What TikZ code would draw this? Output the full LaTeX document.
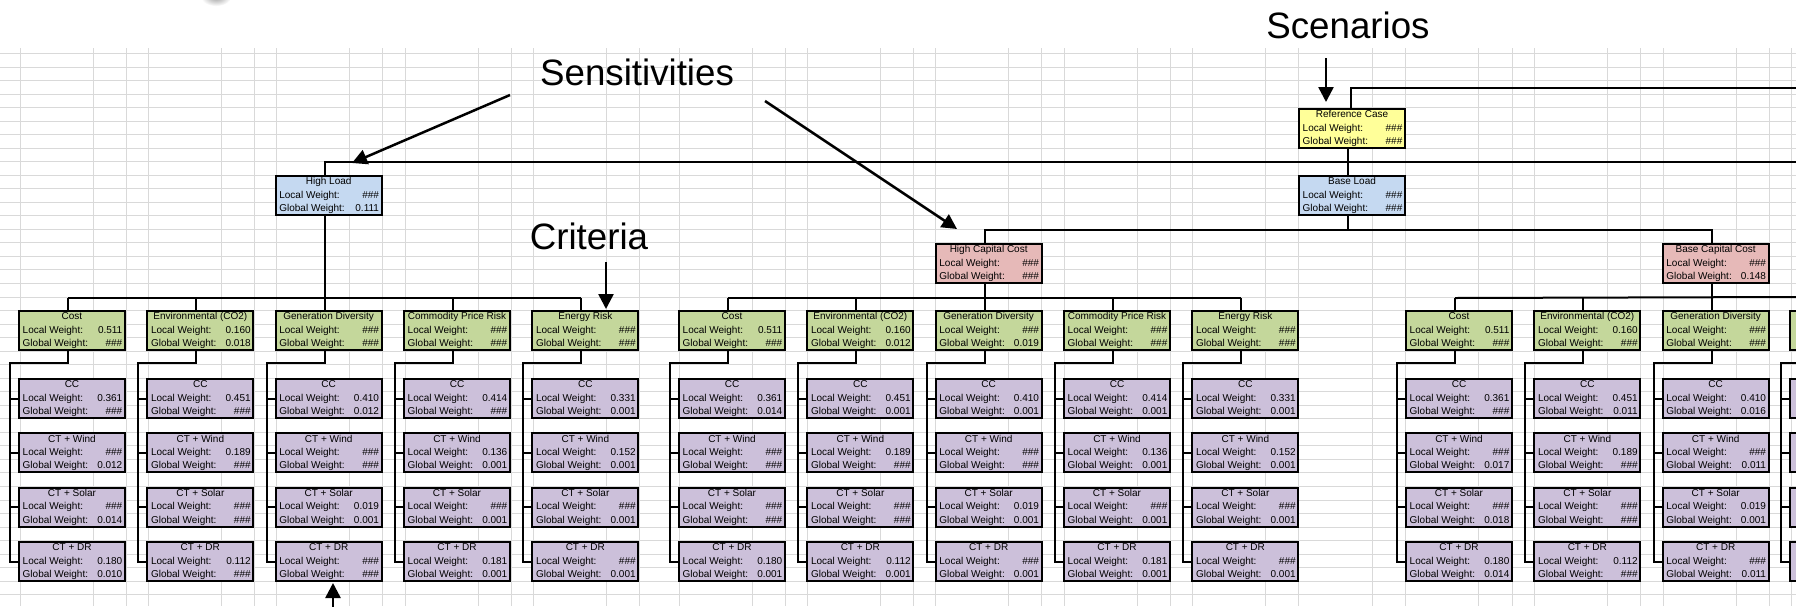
\documentclass[tikz,border=0pt]{standalone}
\usepackage{fontspec}
\setmainfont{Liberation Sans}
\usetikzlibrary{arrows.meta,calc}
\definecolor{gridc}{HTML}{D9D9D9}
\definecolor{scenc}{HTML}{FFFF99}
\definecolor{sensc}{HTML}{C5D9F1}
\definecolor{capc}{HTML}{E6B9B8}
\definecolor{critc}{HTML}{C4D79B}
\definecolor{altc}{HTML}{CCC0DA}
\tikzset{
 wbox/.style={draw=black, line width=1.8pt, anchor=north west, minimum width=106pt, minimum height=39pt, inner sep=0pt, outer sep=0pt},
 boxtxt/.style={inner sep=0pt, font=\fontsize{10}{10}\selectfont, text height=7.3pt, text depth=2pt},
 conn/.style={draw=black, line width=2pt},
 annot/.style={draw=black, line width=2.5pt, -{Triangle[length=15pt,width=15pt]}},
 bigtxt/.style={inner sep=0pt, font=\fontsize{36.7}{40}\selectfont, text height=26.5pt, text depth=0pt},
 gridline/.style={draw=gridc, line width=1pt},
}
\newcommand\hh{\#\#\#}
\newcommand\wtbox[7]{%
 \node[wbox, fill=#4] (#1) at ({#2+1},{#3+1}) {};
 \node[boxtxt] (#1t) at ([yshift=-6.2pt]#1.north) {#5};
 \node[boxtxt, anchor=west] (#1l) at ([xshift=3.5pt,yshift=-19.5pt]#1.north west) {Local Weight:};
 \node[boxtxt, anchor=east] (#1lv) at ([xshift=-2.5pt,yshift=-19.5pt]#1.north east) {#6};
 \node[boxtxt, anchor=west] (#1g) at ([xshift=3.5pt,yshift=-33pt]#1.north west) {Global Weight:};
 \node[boxtxt, anchor=east] (#1gv) at ([xshift=-2.5pt,yshift=-33pt]#1.north east) {#7};
}
\newcommand\critcol[6]{%
 \wtbox{#1}{#2}{310}{critc}{#3}{#4}{#5}%
 \foreach \alw/\agw [count=\i] in {#6} {%
  \pgfmathsetmacro\alttop{378+54.33*(\i-1)}%
  \wtbox{#1a\i}{#2}{\alttop}{altc}{\ifcase\i\or CC\or CT + Wind\or CT + Solar\or CT + DR\fi}{\alw}{\agw}%
 }%
 \draw[conn] ([xshift=49pt]#1.south west) -- ++(0,13) -| ([xshift=-9pt]#1a4.west) -- (#1a4.west);
 \foreach \i in {1,2,3} {\draw[conn] (#1a\i.west) -- ++(-9,0);}
 \draw[conn] ([xshift=49pt]#1.north west) -- ++(0,-13);
}
\newcommand\blankcol[2]{%
 \node[wbox, fill=critc] (#1) at ({#2+1},311) {};
 \foreach \i in {1,2,3,4} {%
  \pgfmathsetmacro\alttop{379+54.33*(\i-1)}%
  \node[wbox, fill=altc] (#1a\i) at ({#2+1},\alttop) {};
 }%
 \draw[conn] ([xshift=49pt]#1.south west) -- ++(0,13) -| ([xshift=-9pt]#1a4.west) -- (#1a4.west);
 \foreach \i in {1,2,3} {\draw[conn] (#1a\i.west) -- ++(-9,0);}
 \draw[conn] ([xshift=49pt]#1.north west) -- ++(0,-13);
}
\begin{document}
\begin{tikzpicture}[x=1pt,y=-1pt]
\useasboundingbox (0,0) rectangle (1796,606);
\clip (0,0) rectangle (1796,606);
\fill[white] (0,0) rectangle (1796,606);
% blurred shape at top
\shade[inner color=gray!75, outer color=white] (216,-3) ellipse [x radius=15, y radius=9];
% spreadsheet grid
\foreach \k in {0,...,40} {\draw[gridline] (0,{53.5+13.53*\k}) -- (1796,{53.5+13.53*\k});}
\foreach \x in {20,93,126,148.3,221.3,254.3,276.7,349.7,382.7,405,478,511,533.3,606.3,639.3,
  679,752,785,807.3,880.3,913.3,935.7,1008.7,1041.7,1064,1137,1170,1192.3,1265.3,1298.3,
  1372,1405,1478,1512,1534,1607,1640,1663,1736,1769,1791} {\draw[gridline] (\x,48) -- (\x,606);}
% upper levels
\wtbox{rc}{1298}{108}{scenc}{Reference Case}{\hh}{\hh}
\wtbox{hl}{274.67}{175}{sensc}{High Load}{\hh}{0.111}
\wtbox{bl}{1298}{175}{sensc}{Base Load}{\hh}{\hh}
\wtbox{hcc}{934.67}{243}{capc}{High Capital Cost}{\hh}{\hh}
\wtbox{bcc}{1661.67}{243}{capc}{Base Capital Cost}{\hh}{0.148}
% block 1
\critcol{c11}{18}{Cost}{0.511}{\hh}{0.361/\hh, \hh/0.012, \hh/0.014, 0.180/0.010}
\critcol{c12}{146.33}{Environmental (CO2)}{0.160}{0.018}{0.451/\hh, 0.189/\hh, \hh/\hh, 0.112/\hh}
\critcol{c13}{274.67}{Generation Diversity}{\hh}{\hh}{0.410/0.012, \hh/\hh, 0.019/0.001, \hh/\hh}
\critcol{c14}{403}{Commodity Price Risk}{\hh}{\hh}{0.414/\hh, 0.136/0.001, \hh/0.001, 0.181/0.001}
\critcol{c15}{531.33}{Energy Risk}{\hh}{\hh}{0.331/0.001, 0.152/0.001, \hh/0.001, \hh/0.001}
% block 2
\critcol{c21}{678}{Cost}{0.511}{\hh}{0.361/0.014, \hh/\hh, \hh/\hh, 0.180/0.001}
\critcol{c22}{806.33}{Environmental (CO2)}{0.160}{0.012}{0.451/0.001, 0.189/\hh, \hh/\hh, 0.112/0.001}
\critcol{c23}{934.67}{Generation Diversity}{\hh}{0.019}{0.410/0.001, \hh/\hh, 0.019/0.001, \hh/0.001}
\critcol{c24}{1063}{Commodity Price Risk}{\hh}{\hh}{0.414/0.001, 0.136/0.001, \hh/0.001, 0.181/0.001}
\critcol{c25}{1191.33}{Energy Risk}{\hh}{\hh}{0.331/0.001, 0.152/0.001, \hh/0.001, \hh/0.001}
% block 3
\critcol{c31}{1405}{Cost}{0.511}{\hh}{0.361/\hh, \hh/0.017, \hh/0.018, 0.180/0.014}
\critcol{c32}{1533.33}{Environmental (CO2)}{0.160}{\hh}{0.451/0.011, 0.189/\hh, \hh/\hh, 0.112/\hh}
\critcol{c33}{1661.67}{Generation Diversity}{\hh}{\hh}{0.410/0.016, \hh/0.011, 0.019/0.001, \hh/0.011}
\blankcol{c34}{1789}
% tree connectors
\coordinate (e0) at (1796,88);
\coordinate (e1) at (1796,162);
\coordinate (e3) at (1796,297);
\draw[conn] ([xshift=52pt]rc.north west) -- ++(0,-21) -- (e0);
\draw[conn] ([xshift=49pt]hl.north west) -- ++(0,-14) -- (e1);
\draw[conn] ([xshift=49pt]rc.south west) -- ([xshift=49pt]bl.north west);
\draw[conn] ([xshift=49pt]hcc.north west) -- ++(0,-14) coordinate (r2) -| ([xshift=49pt]bcc.north west);
\coordinate (blb) at ([xshift=49pt]bl.south west);
\draw[conn] (blb) -- (blb |- r2);
\coordinate (r1) at ([xshift=49pt,yshift=13pt]c11.north west);
\draw[conn] (r1) -- ([xshift=49pt,yshift=13pt]c15.north west);
\coordinate (hlb) at ([xshift=49pt]hl.south west);
\draw[conn] (hlb) -- (hlb |- r1);
\draw[conn] ([xshift=49pt,yshift=13pt]c21.north west) -- ([xshift=49pt,yshift=13pt]c25.north west);
\coordinate (hccb) at ([xshift=49pt]hcc.south west);
\draw[conn] (hccb) -- (hccb |- r1);
\draw[conn] ([xshift=49pt,yshift=13pt]c31.north west) -- (e3);
\coordinate (bccb) at ([xshift=49pt]bcc.south west);
\draw[conn] (bccb) -- (bccb |- r1);
% annotations
\node[bigtxt] (scen) at (1348,25) {Scenarios};
\node[bigtxt] (sens) at (637,72) {Sensitivities};
\node[bigtxt] (crit) at (589,236) {Criteria};
\coordinate (sa) at (1326,58); \coordinate (sb) at (1326,102);
\draw[annot] (sa) -- (sb);
\coordinate (la) at (510,95); \coordinate (lb) at (352,163);
\draw[annot] (la) -- (lb);
\coordinate (ra) at (765,101); \coordinate (rb) at (957,229);
\draw[annot] (ra) -- (rb);
\coordinate (ca) at (606,262); \coordinate (cb) at (606,309);
\draw[annot] (ca) -- (cb);
\coordinate (da) at (333,612); \coordinate (db) at (333,583);
\draw[annot] (da) -- (db);
\end{tikzpicture}
\end{document}
